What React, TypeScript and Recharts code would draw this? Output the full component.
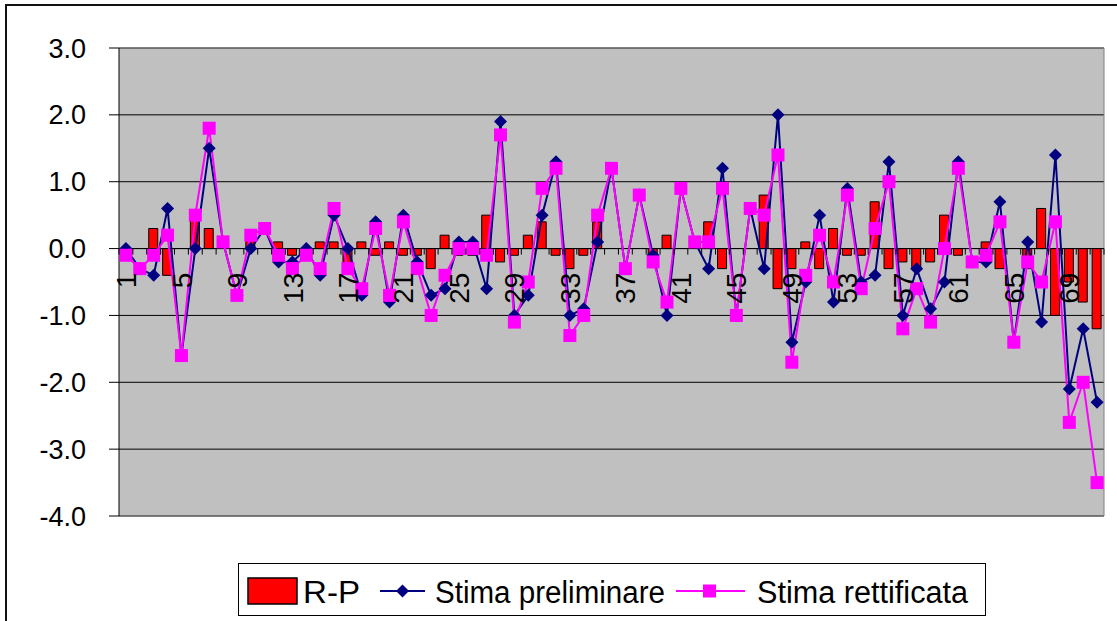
import React from 'react';
import * as Recharts from 'recharts';

const { ComposedChart, Bar, Line, XAxis, YAxis, CartesianGrid, ReferenceLine, Legend } = Recharts;

const FONT = '"Liberation Sans", Arial, sans-serif';

const categories = [
  '1', '2', '3', '4', '5', '6', '7', '8', '9', '10', '11', '12', '13', '14', '15', '16', '17', '18',
  '19', '20', '21', '22', '23', '24', '25', '26', '27', '28', '29', '30', '31', '32', '33', '34', '35', '36',
  '37', '38', '39', '40', '41', '42', '43', '44', '45', '46', '47', '48', '49', '50', '51', '52', '53', '54',
  '55', '56', '57', '58', '59', '60', '61', '62', '63', '64', '65', '66', '67', '68', '69', '70', '71',
];

// R-P = rettificata - preliminare
const rp = [
  -0.1, 0.0, 0.3, -0.4, 0.0, 0.5, 0.3, 0.0, 0.0, 0.2, 0.0, 0.1, -0.1, -0.1, 0.1, 0.1, -0.3, 0.1,
  -0.1, 0.1, -0.1, -0.1, -0.3, 0.2, -0.1, -0.1, 0.5, -0.2, -0.1, 0.2, 0.4, -0.1, -0.3, -0.1, 0.4, 0.0,
  0.0, 0.0, -0.1, 0.2, 0.0, 0.0, 0.4, -0.3, 0.0, 0.0, 0.8, -0.6, -0.3, 0.1, -0.3, 0.3, -0.1, -0.1,
  0.7, -0.3, -0.2, -0.3, -0.2, 0.5, -0.1, 0.0, 0.1, -0.3, 0.0, -0.3, 0.6, -1.0, -0.5, -0.8, -1.2,
];

const preliminare = [
  0.0, -0.3, -0.4, 0.6, -1.6, 0.0, 1.5, 0.1, -0.7, 0.0, 0.3, -0.2, -0.2, 0.0, -0.4, 0.5, 0.0, -0.7,
  0.4, -0.8, 0.5, -0.2, -0.7, -0.6, 0.1, 0.1, -0.6, 1.9, -1.0, -0.7, 0.5, 1.3, -1.0, -0.9, 0.1, 1.2,
  -0.3, 0.8, -0.1, -1.0, 0.9, 0.1, -0.3, 1.2, -1.0, 0.6, -0.3, 2.0, -1.4, -0.5, 0.5, -0.8, 0.9, -0.5,
  -0.4, 1.3, -1.0, -0.3, -0.9, -0.5, 1.3, -0.2, -0.2, 0.7, -1.4, 0.1, -1.1, 1.4, -2.1, -1.2, -2.3,
];

const rettificata = [
  -0.1, -0.3, -0.1, 0.2, -1.6, 0.5, 1.8, 0.1, -0.7, 0.2, 0.3, -0.1, -0.3, -0.1, -0.3, 0.6, -0.3, -0.6,
  0.3, -0.7, 0.4, -0.3, -1.0, -0.4, 0.0, 0.0, -0.1, 1.7, -1.1, -0.5, 0.9, 1.2, -1.3, -1.0, 0.5, 1.2,
  -0.3, 0.8, -0.2, -0.8, 0.9, 0.1, 0.1, 0.9, -1.0, 0.6, 0.5, 1.4, -1.7, -0.4, 0.2, -0.5, 0.8, -0.6,
  0.3, 1.0, -1.2, -0.6, -1.1, 0.0, 1.2, -0.2, -0.1, 0.4, -1.4, -0.2, -0.5, 0.4, -2.6, -2.0, -3.5,
];

const yTicks = [3, 2, 1, 0, -1, -2, -3, -4];
const Y_MIN = -4;
const Y_MAX = 3;

const data = categories.map((name, i) => ({
  name,
  rp: rp[i],
  prelim: preliminare[i],
  rett: rettificata[i],
}));

const usePlot: () => any = (Recharts as any).usePlotArea ?? (() => null);
const FALLBACK_PLOT = { x: 119, y: 48, width: 985, height: 468 };

// category labels sit on the zero line like in Excel
const CatTick = (props: any) => {
  const plot = usePlot() || FALLBACK_PLOT;
  const { x, index, payload } = props;
  const zeroY = plot.y + (plot.height * Y_MAX) / (Y_MAX - Y_MIN);
  const bw = plot.width / categories.length;
  return (
    <g>
      <line x1={x - bw / 2} x2={x - bw / 2} y1={zeroY} y2={zeroY + 6} stroke="#000" />
      {index === categories.length - 1 && (
        <line x1={x + bw / 2} x2={x + bw / 2} y1={zeroY} y2={zeroY + 6} stroke="#000" />
      )}
      {index % 4 === 0 && (
        <text
          transform={`translate(${x},${zeroY + 24}) rotate(-90)`}
          textAnchor="end"
          dy="0.36em"
          fontSize={28}
          fontFamily={FONT}
          fill="#000"
        >
          {payload.value}
        </text>
      )}
    </g>
  );
};

const renderDiamond = (props: any) => {
  const { cx, cy, index } = props;
  if (cx == null || cy == null) return <g key={`d-${index}`} />;
  const r = 6.5;
  return (
    <path
      key={`d-${index}`}
      d={`M${cx},${cy - r}L${cx + r},${cy}L${cx},${cy + r}L${cx - r},${cy}Z`}
      fill="#000080"
    />
  );
};

const renderSquare = (props: any) => {
  const { cx, cy, index } = props;
  if (cx == null || cy == null) return <g key={`s-${index}`} />;
  return <rect key={`s-${index}`} x={cx - 6.5} y={cy - 6.5} width={13} height={13} fill="#FF00FF" />;
};

const LegendBox = () => (
  <svg width={748} height={53} style={{ display: 'block' }}>
    <rect x={0.5} y={0.5} width={747} height={52} fill="#fff" stroke="#000" />
    <rect x={10} y={15} width={49} height={26} fill="#FF0000" stroke="#000" strokeWidth={1.5} />
    <text x={65} y={40} fontSize={31} fontFamily={FONT} textLength={57} lengthAdjust="spacingAndGlyphs">
      R-P
    </text>
    <line x1={142} x2={187} y1={28} y2={28} stroke="#000080" strokeWidth={2} />
    <path d="M164.5,21.5L171,28L164.5,34.5L158,28Z" fill="#000080" />
    <text x={197} y={40} fontSize={31} fontFamily={FONT} textLength={230} lengthAdjust="spacingAndGlyphs">
      Stima preliminare
    </text>
    <line x1={438} x2={507} y1={28} y2={28} stroke="#FF00FF" strokeWidth={2} />
    <rect x={465} y={21.5} width={13} height={13} fill="#FF00FF" />
    <text x={519} y={40} fontSize={31} fontFamily={FONT} textLength={211} lengthAdjust="spacingAndGlyphs">
      Stima rettificata
    </text>
  </svg>
);

export default function App() {
  return (
    <div style={{ position: 'absolute', left: 0, top: 0, width: 1117, height: 621, background: '#fff', overflow: 'hidden' }}>
      <div
        style={{
          position: 'absolute',
          left: 5,
          top: 4,
          width: 1200,
          height: 700,
          border: '2px solid #111',
        }}
      />
      <div style={{ position: 'absolute', left: 0, top: 0 }}>
        <ComposedChart width={1117} height={621} data={data} margin={{ top: 48, right: 13, left: 0, bottom: 104 }}>
          <CartesianGrid horizontal vertical={false} stroke="#000" fill="#C0C0C0" fillOpacity={1} />
          <XAxis
            dataKey="name"
            interval={0}
            axisLine={false}
            tickLine={false}
            height={1}
            tick={<CatTick />}
          />
          <YAxis
            domain={[Y_MIN, Y_MAX]}
            ticks={yTicks}
            width={119}
            tickFormatter={(v: number) => v.toFixed(1)}
            axisLine={{ stroke: '#000' }}
            tickLine={{ stroke: '#000' }}
            tickSize={10}
            tickMargin={23}
            tick={{ fontSize: 27, fill: '#000', fontFamily: FONT }}
            allowDataOverflow
          />
          <ReferenceLine y={Y_MAX} stroke="#808080" />
          <ReferenceLine y={Y_MIN} stroke="#808080" />
          <ReferenceLine x={categories[categories.length - 1]} position="end" stroke="#808080" />
          <ReferenceLine y={0} stroke="#000" />
          <Bar dataKey="rp" name="R-P" fill="#FF0000" stroke="#000" strokeWidth={1} barSize={9} isAnimationActive={false} />
          <Line
            type="linear"
            dataKey="prelim"
            name="Stima preliminare"
            stroke="#000080"
            strokeWidth={2}
            dot={renderDiamond}
            activeDot={false}
            isAnimationActive={false}
          />
          <Line
            type="linear"
            dataKey="rett"
            name="Stima rettificata"
            stroke="#FF00FF"
            strokeWidth={2}
            dot={renderSquare}
            activeDot={false}
            isAnimationActive={false}
          />
          <Legend
            layout="horizontal"
            verticalAlign="middle"
            align="center"
            content={<LegendBox />}
            wrapperStyle={{ left: 238, top: 563, width: 748, height: 53 }}
          />
        </ComposedChart>
      </div>
    </div>
  );
}
